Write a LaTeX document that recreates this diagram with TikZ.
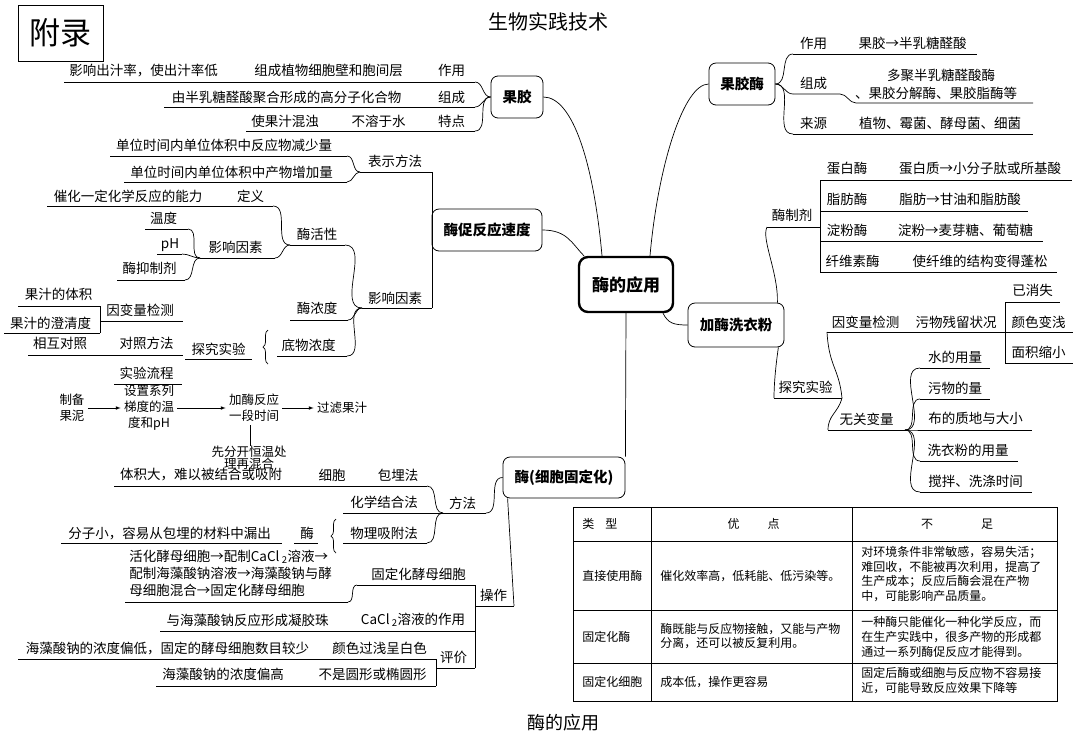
\documentclass[tikz,border=0pt]{standalone}
\usepackage{fontspec}
\setmainfont{Noto Sans CJK SC}
\usepackage{tikz}
\usetikzlibrary{arrows,decorations.pathreplacing}
\tikzstyle{mmtext}=[inner sep=0pt, font=\fontsize{13.5}{17}\selectfont]
\tikzstyle{mmflow}=[inner sep=3pt, align=center, font=\fontsize{12.5}{16}\selectfont]
\tikzstyle{mmtopic}=[rectangle, draw, fill=white, rounded corners=7pt, line width=0.8pt, inner sep=0pt, font=\fontsize{14.5}{16}\selectfont\bfseries]
\tikzstyle{mmroot}=[mmtopic, line width=2.4pt, rounded corners=9pt, font=\fontsize{17}{19}\selectfont\bfseries]
\tikzstyle{tabtext}=[inner sep=0pt, anchor=west, align=left, font=\fontsize{12}{14.7}\selectfont]
\tikzstyle{sc}=[out=0, in=180]
\newcommand{\mmtext}[3]{
	\node[mmtext] (#1) at (#2) {#3};}
\newcommand{\mmline}[3]{
	\coordinate (#1l) at (#2);
	\coordinate (#1r) at (#3);
	\draw (#1l) -- (#1r);}
\begin{document}
\begin{tikzpicture}[x=1pt, y=-1pt, line width=0.7pt]
\path[fill=white] (0,0) rectangle (1080,740);

\node[draw, line width=0.8pt, minimum width=85pt, minimum height=56pt, inner sep=0pt, font=\fontsize{31}{31}\selectfont] (fulu) at (60.5,33) {附录};
\node[font=\fontsize{20}{22}\selectfont] (title) at (548,22) {生物实践技术};
\node[font=\fontsize{18}{20}\selectfont] (caption) at (563,723) {酶的应用};

\node[mmroot, minimum width=94pt, minimum height=55pt] (root) at (626,284.5) {酶的应用};
\node[mmtopic, minimum width=52pt, minimum height=42pt] (gj) at (517,97) {果胶};
\node[mmtopic, minimum width=110pt, minimum height=42pt] (cs) at (487,230) {酶促反应速度};
\node[mmtopic, minimum width=122pt, minimum height=41pt] (gdh) at (564,477.5) {酶(细胞固定化)};
\node[mmtopic, minimum width=66pt, minimum height=42pt] (gjm) at (742,84) {果胶酶};
\node[mmtopic, minimum width=96pt, minimum height=44pt] (jmx) at (736,325) {加酶洗衣粉};

\draw (gj.east) .. controls +(30,0) and +(-8,-90) .. ([xshift=-24pt]root.north);
\draw (cs.east) .. controls +(25,0) and +(-12,-12) .. ([xshift=-42pt]root.north);
\draw (gjm.west) .. controls +(-25,0) and +(8,-90) .. ([xshift=24pt]root.north);
\draw (jmx.west) .. controls +(-14,0) and +(5,10) .. ([xshift=37pt]root.south);
\draw (root.south) -- (gdh.north east);

% guo jiao
\mmline{gja}{64,82}{475,82}
\mmline{gjb}{164,107}{475,107}
\mmline{gjc}{246,131}{475,131}
\draw (gjar) to[sc] (gj.west);
\draw (gjbr) to[sc] (gj.west);
\draw (gjcr) to[sc] (gj.west);
\mmtext{gja1}{143.5,70}{影响出汁率，使出汁率低}
\mmtext{gja2}{328.5,70}{组成植物细胞壁和胞间层}
\mmtext{gja3}{451.5,70}{作用}
\mmtext{gjb1}{286.5,97}{由半乳糖醛酸聚合形成的高分子化合物}
\mmtext{gjb2}{451.5,97}{组成}
\mmtext{gjc1}{285,121}{使果汁混浊}
\mmtext{gjc2}{378.5,121}{不溶于水}
\mmtext{gjc3}{451.5,121}{特点}

% cu fan ying su du
\mmline{bs}{360,172}{432,172}
\mmline{yx}{362,308}{432,308}
\draw (bsr) -- (yxr);
\mmtext{bs}{395,161}{表示方法}
\mmtext{yx}{395,298}{影响因素}
\mmline{fya}{110,156}{347,156}
\mmline{fyb}{124,182}{347,182}
\draw (fyar) to[sc] (bsl);
\draw (fybr) to[sc] (bsl);
\mmtext{fya}{224,145}{单位时间内单位体积中反应物减少量}
\mmtext{fyb}{231.5,172}{单位时间内单位体积中产物增加量}
\mmline{dy}{47,206}{273,206}
\mmline{hx}{290,245}{345,245}
\draw (dyr) to[sc] (hxl);
\draw (hxr) to[sc] (yxl);
\mmtext{dy1}{128,196}{催化一定化学反应的能力}
\mmtext{dy2}{250.5,196}{定义}
\mmtext{hx}{317,234}{酶活性}
\mmline{yn}{200,258}{275,258}
\draw (ynr) to[sc] (hxl);
\mmtext{yn}{235.5,247}{影响因素}
\mmline{wd}{145,229}{188,229}
\mmline{ph}{157,254}{182,254}
\mmline{yz}{117,280}{185,280}
\draw (wdr) to[sc] (ynl);
\draw (phr) to[sc] (ynl);
\draw (yzr) to[sc] (ynl);
\mmtext{wd}{163.5,218}{温度}
\mmtext{ph}{170,245}{pH}
\mmtext{yz}{149.5,268}{酶抑制剂}
\mmline{nd}{290,320}{348,320}
\mmline{dw}{277,356}{347,356}
\draw (ndr) to[sc] (yxl);
\draw (dwr) to[sc] (yxl);
\mmtext{nd}{317,308}{酶浓度}
\mmtext{dw}{308.5,345}{底物浓度}
\coordinate (bra) at (268,364);
\coordinate (brb) at (268,330);
\draw[decorate, decoration={brace, amplitude=5pt}] (bra) -- (brb);
\mmline{tj}{185,359}{252,359}
\mmtext{tj}{218.5,349}{探究实验}
\mmline{yb}{100,321}{183,321}
\mmline{gza}{18,306}{100,306}
\mmline{gzb}{4,333}{100,333}
\draw (gzar) -- (gzbr);
\mmtext{yb}{140,310}{因变量检测}
\mmtext{gza}{58.5,294}{果汁的体积}
\mmtext{gzb}{50.5,323}{果汁的澄清度}
\mmline{dz}{28,355}{183,355}
\mmtext{dz1}{60,343}{相互对照}
\mmtext{dz2}{146.5,343}{对照方法}
\mmline{lc}{114,384}{182,384}
\mmtext{lc}{146.5,373}{实验流程}
\node[mmflow] (zb) at (72,408) {制备\\果泥};
\node[mmflow] (sz) at (149,408) {设置系列\\梯度的温\\度和pH};
\node[mmflow] (jm) at (254,408) {加酶反应\\一段时间};
\node[mmflow] (gl) at (342,408) {过滤果汁};
\draw[-latex] (zb) -- (sz);
\draw[-latex] (sz) -- (jm);
\draw[-latex] (jm) -- (gl);
\node[mmflow, inner sep=0pt, font=\fontsize{12.5}{12}\selectfont] (xf) at (249,458) {先分开恒温处\\理再混合};
\draw ([xshift=-4pt]jm.south) -- ([xshift=1pt]xf.north);

% gu ding hua
\mmline{bm}{114,486}{427,486}
\mmline{ff}{443,513}{486,513}
\draw (bmr) to[sc] (ffl);
\draw (ffr) to[sc] (gdh.west);
\mmtext{bm1}{201,475}{体积大，难以被结合或吸附}
\mmtext{bm2}{332,475}{细胞}
\mmtext{bm3}{398,475}{包埋法}
\mmtext{ff}{462.5,503}{方法}
\mmline{hj}{343,513}{434,513}
\mmline{wl}{343,543}{427,543}
\draw (hjr) to[sc] (ffl);
\draw (wlr) to[sc] (ffl);
\mmtext{hj}{384,502}{化学结合法}
\mmtext{wl}{384,533}{物理吸附法}
\coordinate (brc) at (336,553);
\coordinate (brd) at (336,519);
\draw[decorate, decoration={brace, amplitude=5pt}] (brc) -- (brd);
\mmline{m}{294,543}{318,543}
\mmline{fz}{61,543}{282,543}
\mmtext{m}{307,533}{酶}
\mmtext{fz}{169.5,533}{分子小，容易从包埋的材料中漏出}
\node[mmtext, anchor=west, align=left] (hh) at (129,573) {活化酵母细胞→配制CaCl\,\textsubscript{2}溶液→\\配制海藻酸钠溶液→海藻酸钠与酵\\母细胞混合→固定化酵母细胞};
\mmline{hh}{125,602}{348,602}
\mmline{gd}{357,585}{475,585}
\draw (hhr) to[sc] (gdl);
\mmtext{gd}{418.5,574}{固定化酵母细胞}
\mmline{cz}{475,606}{514,606}
\draw (czr) -- ([xshift=5pt]gdh.south west);
\mmtext{cz}{493.5,595}{操作}
\mmline{ca}{160,631}{475,631}
\mmtext{ca1}{247.5,620}{与海藻酸钠反应形成凝胶珠}
\mmtext{ca2}{413,620}{CaCl\,\textsubscript{2}溶液的作用}
\mmline{pj}{436,668}{475,668}
\draw (gdr) -- (pjr);
\mmtext{pj}{453.5,657}{评价}
\mmline{pd}{18,659}{436,659}
\mmline{pg}{156,686}{436,686}
\draw (pdr) -- (pgr);
\mmtext{pd1}{167.5,648}{海藻酸钠的浓度偏低，固定的酵母细胞数目较少}
\mmtext{pd2}{379.5,648}{颜色过浅呈白色}
\mmtext{pg1}{223,674}{海藻酸钠的浓度偏高}
\mmtext{pg2}{372.5,674}{不是圆形或椭圆形}

% guo jiao mei
\mmline{zy}{793,54}{977,54}
\coordinate (zcl) at (793,94);
\coordinate (zcm) at (840,94);
\coordinate (zcn) at (856,103);
\coordinate (zcr) at (1033,103);
\draw (zcl) -- (zcm) to[sc] (zcn) -- (zcr);
\mmline{ly}{793,134}{1033,134}
\draw (gjm.east) to[sc] (zyl);
\draw (gjm.east) to[sc] (zcl);
\draw (gjm.east) to[sc] (lyl);
\mmtext{zy1}{813.5,43}{作用}
\mmtext{zy2}{912.5,43}{果胶→半乳糖醛酸}
\mmtext{zc1}{813.5,83}{组成}
\mmtext{zc2}{941,75}{多聚半乳糖醛酸酶}
\mmtext{zc3}{936,93}{、果胶分解酶、果胶脂酶等}
\mmtext{ly1}{813.5,123}{来源}
\mmtext{ly2}{940,123}{植物、霉菌、酵母菌、细菌}

% jia mei xi yi fen
\mmline{zj}{767,227}{820,227}
\draw ([xshift=-7pt]jmx.north east) .. controls +(1,-30) and +(-6,12) .. (zjl);
\mmtext{zj}{792,215}{酶制剂}
\mmline{db}{820,180}{1072,180}
\mmline{zf}{820,211}{1028,211}
\mmline{df}{820,241}{1043,241}
\mmline{xw}{820,272}{1057,272}
\draw (dbl) -- (xwl);
\mmtext{db1}{847,168}{蛋白酶}
\mmtext{db2}{980,168}{蛋白质→小分子肽或所基酸}
\mmtext{zf1}{847,199}{脂肪酶}
\mmtext{zf2}{960,199}{脂肪→甘油和脂肪酸}
\mmtext{df1}{847,230}{淀粉酶}
\mmtext{df2}{965.5,230}{淀粉→麦芽糖、葡萄糖}
\mmtext{xw1}{852.5,261}{纤维素酶}
\mmtext{xw2}{980,261}{使纤维的结构变得蓬松}
\mmline{tk}{774,398}{842,398}
\draw ([xshift=-6pt]jmx.south east) .. controls +(-3,20) and +(0,-12) .. (tkl);
\mmtext{tk}{805.5,387}{探究实验}
\mmline{yc}{827,332}{1005,332}
\mmline{wg}{828,430}{905,430}
\draw (tkr) .. controls +(-3,-30) and +(2,35) .. (ycl);
\draw (tkr) .. controls +(-4,15) and +(0,-15) .. (wgl);
\mmtext{yc1}{865.5,322}{因变量检测}
\mmtext{yc2}{956,322}{污物残留状况}
\mmtext{wg}{866.5,419}{无关变量}
\mmline{yxs}{1005,302}{1060,302}
\mmline{ys}{1005,332}{1073,332}
\mmline{mj}{1005,363}{1073,363}
\draw (yxsl) -- (mjl);
\mmtext{yxs}{1032.5,290}{已消失}
\mmtext{ys}{1038.5,322}{颜色变浅}
\mmtext{mj}{1038.5,352}{面积缩小}
\mmline{sy}{920,368}{990,368}
\mmline{ww}{920,399}{990,399}
\mmline{bz}{920,430}{1032,430}
\mmline{xy}{920,461}{1018,461}
\mmline{jb}{920,492}{1032,492}
\draw (wgr) to[sc] (syl);
\draw (wgr) to[sc] (wwl);
\draw (wgr) to[sc] (bzl);
\draw (wgr) to[sc] (xyl);
\draw (wgr) to[sc] (jbl);
\mmtext{sy}{955,357}{水的用量}
\mmtext{ww}{955,388}{污物的量}
\mmtext{bz}{975.5,418}{布的质地与大小}
\mmtext{xy}{968,450}{洗衣粉的用量}
\mmtext{jb}{975.5,481}{搅拌、洗涤时间}

% table
\draw[line width=0.9pt] (573,507) rectangle (1057,701);
\draw[line width=0.9pt] (651,507) -- (651,701);
\draw[line width=0.9pt] (852,507) -- (852,701);
\draw[line width=0.9pt] (573,541) -- (1057,541);
\draw[line width=0.9pt] (573,610) -- (1057,610);
\draw[line width=0.9pt] (573,663) -- (1057,663);
\node[tabtext] (ta) at (582,524) {类\hspace{11pt}型};
\node[tabtext, anchor=center] (tb) at (753.5,524) {优\hspace{28pt}点};
\node[tabtext, anchor=center] (tc) at (957,524) {不\hspace{48pt}足};
\node[tabtext] (ra1) at (582,576) {直接使用酶};
\node[tabtext] (ra2) at (660,576) {催化效率高，低耗能、低污染等。};
\node[tabtext] (ra3) at (861,574) {对环境条件非常敏感，容易失活；\\难回收，不能被再次利用，提高了\\生产成本；反应后酶会混在产物\\中，可能影响产品质量。};
\node[tabtext] (rb1) at (582,637) {固定化酶};
\node[tabtext] (rb2) at (660,636) {酶既能与反应物接触，又能与产物\\分离，还可以被反复利用。};
\node[tabtext] (rb3) at (861,637) {一种酶只能催化一种化学反应，而\\在生产实践中，很多产物的形成都\\通过一系列酶促反应才能得到。};
\node[tabtext] (rc1) at (582,682) {固定化细胞};
\node[tabtext] (rc2) at (660,682) {成本低，操作更容易};
\node[tabtext] (rc3) at (861,680.5) {固定后酶或细胞与反应物不容易接\\近，可能导致反应效果下降等};
\end{tikzpicture}
\end{document}
